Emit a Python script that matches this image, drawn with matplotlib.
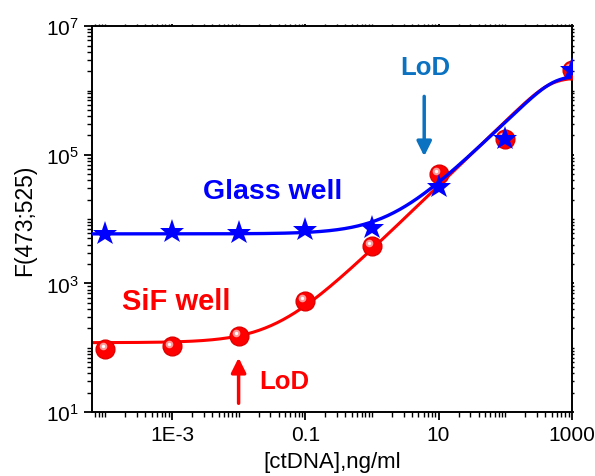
import matplotlib
matplotlib.use('Agg')
import matplotlib.pyplot as plt
import matplotlib.ticker as mticker
import matplotlib.transforms as mtrans
import numpy as np

plt.rcParams['font.family'] = ['Liberation Sans', 'DejaVu Sans']
plt.rcParams['mathtext.fontset'] = 'custom'
plt.rcParams['mathtext.rm'] = 'Liberation Sans'
plt.rcParams['mathtext.it'] = 'Liberation Sans:italic'
plt.rcParams['mathtext.bf'] = 'Liberation Sans:bold'

# concentrations, ng/ml
conc = [1e-4, 1e-3, 1e-2, 0.1, 1, 10, 100, 1000]
# measured F(473;525)
glass = [5900, 6400, 6000, 6700, 7200, 32000, 175000, 2.1e6]
sif = [95, 105, 155, 530, 3800, 50000, 175000, 2.1e6]

# fit parameters (baseline, linear slope, saturation conc, sharpness)
glass_fit = (5900, 3150, 540, 3)
sif_fit = (120, 3300, 480, 3)

x_ticks = [1e-3, 0.1, 10, 1000]
x_ticklabels = ['1E-3', '0.1', '10', '1000']
y_ticks = [1e1, 1e3, 1e5, 1e7]
y_ticklabels = ['$10^{1}$', '$10^{3}$', '$10^{5}$', '$10^{7}$']


def fit_curve(x, base, k, xs, n):
    return base + k * x / (1 + (x / xs) ** n) ** (1 / n)


fig = plt.figure(figsize=(5.95, 4.77), dpi=100)
ax = fig.add_axes([0.1546, 0.134, 0.8064, 0.809])

xx = np.logspace(-4.2, 3, 400)
ax.plot(xx, fit_curve(xx, *sif_fit), color='#ff0000', lw=2.2, zorder=2)
ax.plot(conc, sif, 'o', color='#ff0000', ms=13.5, mec='#e00000', zorder=3)
hl = mtrans.offset_copy(ax.transData, fig=fig, x=-2, y=2, units='points')
ax.plot(conc, sif, 'o', color='#ff9a9a', ms=5.5, mew=0, transform=hl, zorder=4)
ax.plot(conc, sif, 'o', color='white', ms=2.4, mew=0, transform=hl, zorder=4)

ax.plot(xx, fit_curve(xx, *glass_fit), color='#0000ff', lw=2.4, zorder=5)
ax.plot(conc, glass, '*', color='#0000ff', ms=18.5, mew=0, zorder=6)

ax.set_xscale('log')
ax.set_yscale('log')
ax.set_xlim(10 ** -4.2, 1000)
ax.set_ylim(10, 1e7)

ax.xaxis.set_major_locator(mticker.FixedLocator(x_ticks))
ax.xaxis.set_major_formatter(mticker.FixedFormatter(x_ticklabels))
ax.xaxis.set_minor_locator(mticker.LogLocator(base=10, subs=np.arange(1, 10), numticks=100))
ax.xaxis.set_minor_formatter(mticker.NullFormatter())
ax.yaxis.set_major_locator(mticker.FixedLocator(y_ticks))
ax.yaxis.set_major_formatter(mticker.FixedFormatter(y_ticklabels))
ax.yaxis.set_minor_locator(mticker.LogLocator(base=10, subs=np.arange(1, 10), numticks=100))
ax.yaxis.set_minor_formatter(mticker.NullFormatter())

ax.tick_params(which='major', direction='out', length=6, width=1.3, labelsize=15,
               top=True, right=True)
ax.tick_params(which='minor', direction='out', length=3.5, width=1.0, top=True, right=True)
# faint ticks on the top / right frame
for t in ax.xaxis.get_major_ticks() + ax.xaxis.get_minor_ticks():
    t.tick2line.set_markersize(1.5)
    t.tick2line.set_color('#999999')
for t in ax.yaxis.get_major_ticks() + ax.yaxis.get_minor_ticks():
    t.tick2line.set_markersize(1.5)
    t.tick2line.set_color('#999999')
for s in ax.spines.values():
    s.set_linewidth(1.4)

ax.set_xlabel('[ctDNA],ng/ml', fontsize=16, labelpad=5)
ax.set_ylabel('F(473;525)', fontsize=16.5, labelpad=7)

ax.text(0.032, 2.7e4, 'Glass well', color='#0000ff', fontsize=20.5, fontweight='bold',
        ha='center', va='center')
ax.text(1.15e-3, 525, 'SiF well', color='#ff0000', fontsize=21, fontweight='bold',
        ha='center', va='center')
ax.text(0.048, 30, 'LoD', color='#ff0000', fontsize=18.5, fontweight='bold',
        ha='center', va='center')
ax.text(6.3, 2.3e6, 'LoD', color='#0a72c0', fontsize=18.5, fontweight='bold',
        ha='center', va='center')

ax.annotate('', xy=(0.01, 70), xytext=(0.01, 13.7),
            arrowprops=dict(arrowstyle='-|>', color='#ff0000', lw=2.5,
                            mutation_scale=22, shrinkA=0, shrinkB=0))
ax.annotate('', xy=(6.1, 9.5e4), xytext=(6.1, 8.1e5),
            arrowprops=dict(arrowstyle='-|>', color='#0a72c0', lw=2.5,
                            mutation_scale=22, shrinkA=0, shrinkB=0))

fig.savefig('out.png', dpi=100)
